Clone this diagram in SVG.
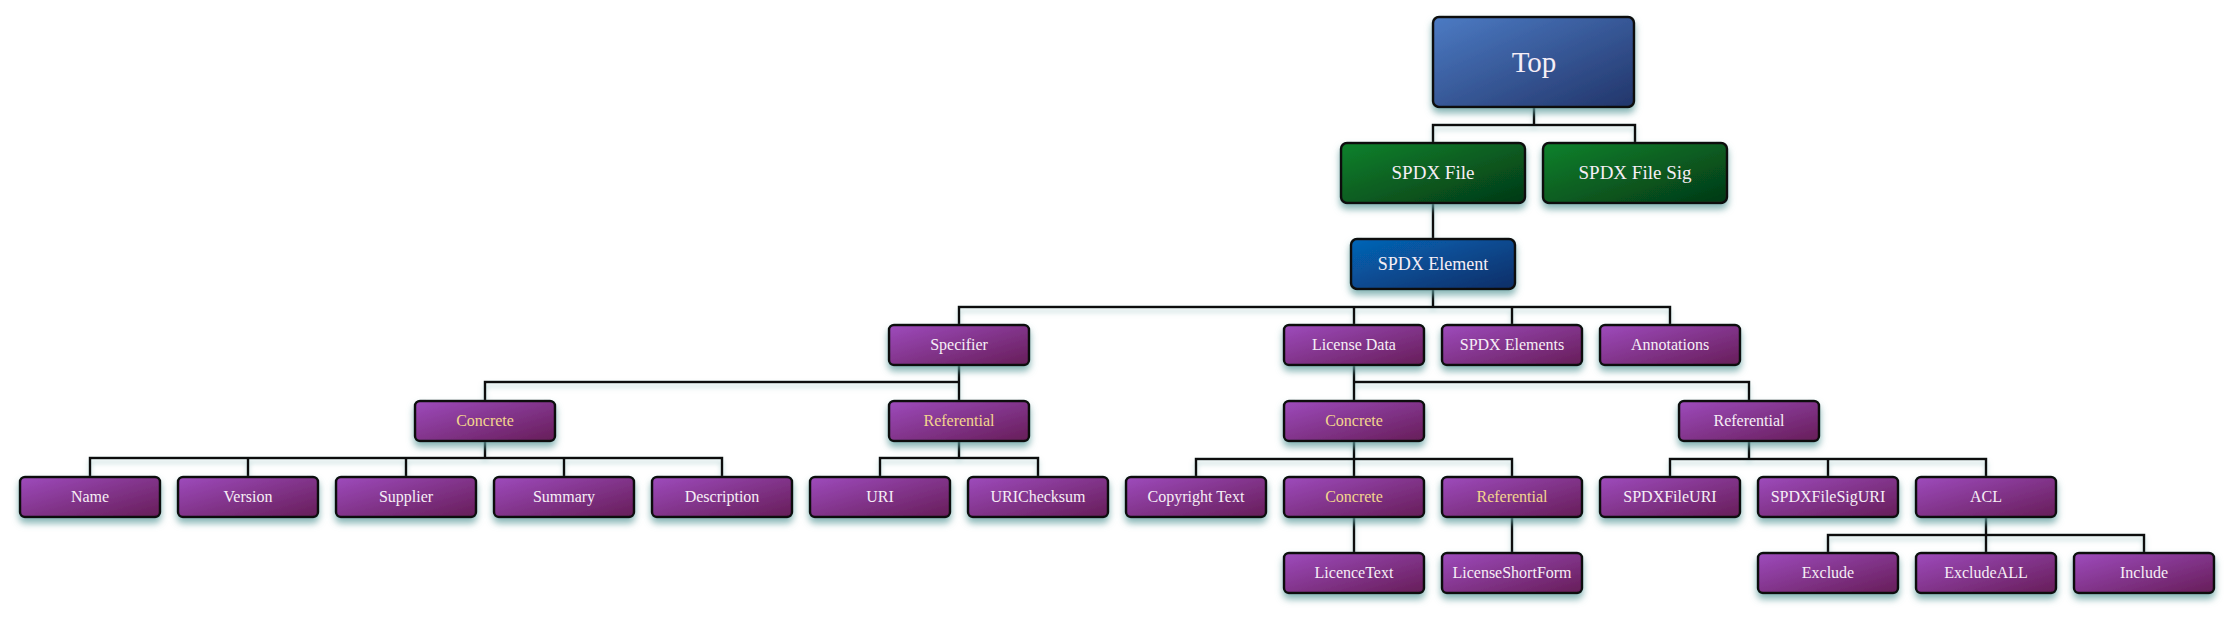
<svg xmlns="http://www.w3.org/2000/svg" width="2234" height="617" viewBox="0 0 2234 617">
<defs>
<linearGradient id="gPurple" x1="0" y1="0" x2="1" y2="1">
<stop offset="0" stop-color="#9e4bbd"/><stop offset="1" stop-color="#661d58"/>
</linearGradient>
<linearGradient id="gTop" x1="0" y1="0" x2="1" y2="1">
<stop offset="0" stop-color="#4c7bc4"/><stop offset="1" stop-color="#22356a"/>
</linearGradient>
<linearGradient id="gGreen" x1="0" y1="0" x2="1" y2="1">
<stop offset="0" stop-color="#0d822c"/><stop offset="1" stop-color="#043816"/>
</linearGradient>
<linearGradient id="gElem" x1="0" y1="0" x2="1" y2="1">
<stop offset="0" stop-color="#0566b8"/><stop offset="1" stop-color="#0b2d66"/>
</linearGradient>
<filter id="sh" x="-10%" y="-20%" width="120%" height="160%">
<feDropShadow dx="0" dy="5" stdDeviation="3.5" flood-color="#5f9e9e" flood-opacity="0.75"/>
</filter>
<filter id="shl" x="-5%" y="-50%" width="110%" height="200%">
<feDropShadow dx="0" dy="4" stdDeviation="2.5" flood-color="#7fb3b3" flood-opacity="0.5"/>
</filter>
</defs>
<style>
.b{stroke:#111;stroke-width:2.5;filter:url(#sh)}
.p{fill:url(#gPurple)}
.t{font-family:"Liberation Serif","Times New Roman",serif;font-size:16px;fill:#f6eef6;text-anchor:middle}
.y{fill:#f3d58e}
.c{fill:none;stroke:#111;stroke-width:2.5}
</style>
<g id="connectors" class="c" filter="url(#shl)">
<path d="M1534 107V125M1433 143V125H1635V143"/>
<path d="M1433 203V239"/>
<path d="M1433 289V307M959 325V307H1670V325M1354 307V325M1512 307V325"/>
<path d="M959 365V401M485 401V382H959"/>
<path d="M1354 365V401M1354 382H1749V401"/>
<path d="M485 441V458M90 477V458H722V477M248 458V477M406 458V477M564 458V477"/>
<path d="M959 441V458M880 477V458H1038V477"/>
<path d="M1354 441V477M1196 477V459H1512V477"/>
<path d="M1749 441V459M1670 477V459H1986V477M1828 459V477"/>
<path d="M1354 517V553M1512 517V553"/>
<path d="M1986 517V553M1828 553V535H2144V553"/>
</g>
<g id="n-top"><rect class="b" x="1433" y="17" width="201" height="90" rx="6" fill="url(#gTop)"/><text class="t" x="1534" y="72" style="font-size:29px">Top</text></g>
<g id="n-spdxfile"><rect class="b" x="1341" y="143" width="184" height="60" rx="6" fill="url(#gGreen)"/><text class="t" x="1433" y="179" style="font-size:19px">SPDX File</text></g>
<g id="n-spdxfilesig"><rect class="b" x="1543" y="143" width="184" height="60" rx="6" fill="url(#gGreen)"/><text class="t" x="1635" y="179" style="font-size:19px">SPDX File Sig</text></g>
<g id="n-spdxelement"><rect class="b" x="1351" y="239" width="164" height="50" rx="6" fill="url(#gElem)"/><text class="t" x="1433" y="270" style="font-size:18px">SPDX Element</text></g>

<g id="n-specifier"><rect class="b p" x="889" y="325" width="140" height="40" rx="5"/><text class="t" x="959" y="350">Specifier</text></g>
<g id="n-licensedata"><rect class="b p" x="1284" y="325" width="140" height="40" rx="5"/><text class="t" x="1354" y="350">License Data</text></g>
<g id="n-spdxelements"><rect class="b p" x="1442" y="325" width="140" height="40" rx="5"/><text class="t" x="1512" y="350">SPDX Elements</text></g>
<g id="n-annotations"><rect class="b p" x="1600" y="325" width="140" height="40" rx="5"/><text class="t" x="1670" y="350">Annotations</text></g>

<g id="n-concrete1"><rect class="b p" x="415" y="401" width="140" height="40" rx="5"/><text class="t y" x="485" y="426">Concrete</text></g>
<g id="n-referential1"><rect class="b p" x="889" y="401" width="140" height="40" rx="5"/><text class="t y" x="959" y="426">Referential</text></g>
<g id="n-concrete2"><rect class="b p" x="1284" y="401" width="140" height="40" rx="5"/><text class="t y" x="1354" y="426">Concrete</text></g>
<g id="n-referential2"><rect class="b p" x="1679" y="401" width="140" height="40" rx="5"/><text class="t" x="1749" y="426">Referential</text></g>

<g id="n-name"><rect class="b p" x="20" y="477" width="140" height="40" rx="5"/><text class="t" x="90" y="502">Name</text></g>
<g id="n-version"><rect class="b p" x="178" y="477" width="140" height="40" rx="5"/><text class="t" x="248" y="502">Version</text></g>
<g id="n-supplier"><rect class="b p" x="336" y="477" width="140" height="40" rx="5"/><text class="t" x="406" y="502">Supplier</text></g>
<g id="n-summary"><rect class="b p" x="494" y="477" width="140" height="40" rx="5"/><text class="t" x="564" y="502">Summary</text></g>
<g id="n-description"><rect class="b p" x="652" y="477" width="140" height="40" rx="5"/><text class="t" x="722" y="502">Description</text></g>
<g id="n-uri"><rect class="b p" x="810" y="477" width="140" height="40" rx="5"/><text class="t" x="880" y="502">URI</text></g>
<g id="n-urichecksum"><rect class="b p" x="968" y="477" width="140" height="40" rx="5"/><text class="t" x="1038" y="502">URIChecksum</text></g>
<g id="n-copyright"><rect class="b p" x="1126" y="477" width="140" height="40" rx="5"/><text class="t" x="1196" y="502">Copyright Text</text></g>
<g id="n-concrete3"><rect class="b p" x="1284" y="477" width="140" height="40" rx="5"/><text class="t y" x="1354" y="502">Concrete</text></g>
<g id="n-referential3"><rect class="b p" x="1442" y="477" width="140" height="40" rx="5"/><text class="t y" x="1512" y="502">Referential</text></g>
<g id="n-spdxfileuri"><rect class="b p" x="1600" y="477" width="140" height="40" rx="5"/><text class="t" x="1670" y="502">SPDXFileURI</text></g>
<g id="n-spdxfilesiguri"><rect class="b p" x="1758" y="477" width="140" height="40" rx="5"/><text class="t" x="1828" y="502">SPDXFileSigURI</text></g>
<g id="n-acl"><rect class="b p" x="1916" y="477" width="140" height="40" rx="5"/><text class="t" x="1986" y="502">ACL</text></g>

<g id="n-licencetext"><rect class="b p" x="1284" y="553" width="140" height="40" rx="5"/><text class="t" x="1354" y="578">LicenceText</text></g>
<g id="n-licenseshortform"><rect class="b p" x="1442" y="553" width="140" height="40" rx="5"/><text class="t" x="1512" y="578">LicenseShortForm</text></g>
<g id="n-exclude"><rect class="b p" x="1758" y="553" width="140" height="40" rx="5"/><text class="t" x="1828" y="578">Exclude</text></g>
<g id="n-excludeall"><rect class="b p" x="1916" y="553" width="140" height="40" rx="5"/><text class="t" x="1986" y="578">ExcludeALL</text></g>
<g id="n-include"><rect class="b p" x="2074" y="553" width="140" height="40" rx="5"/><text class="t" x="2144" y="578">Include</text></g>
</svg>
